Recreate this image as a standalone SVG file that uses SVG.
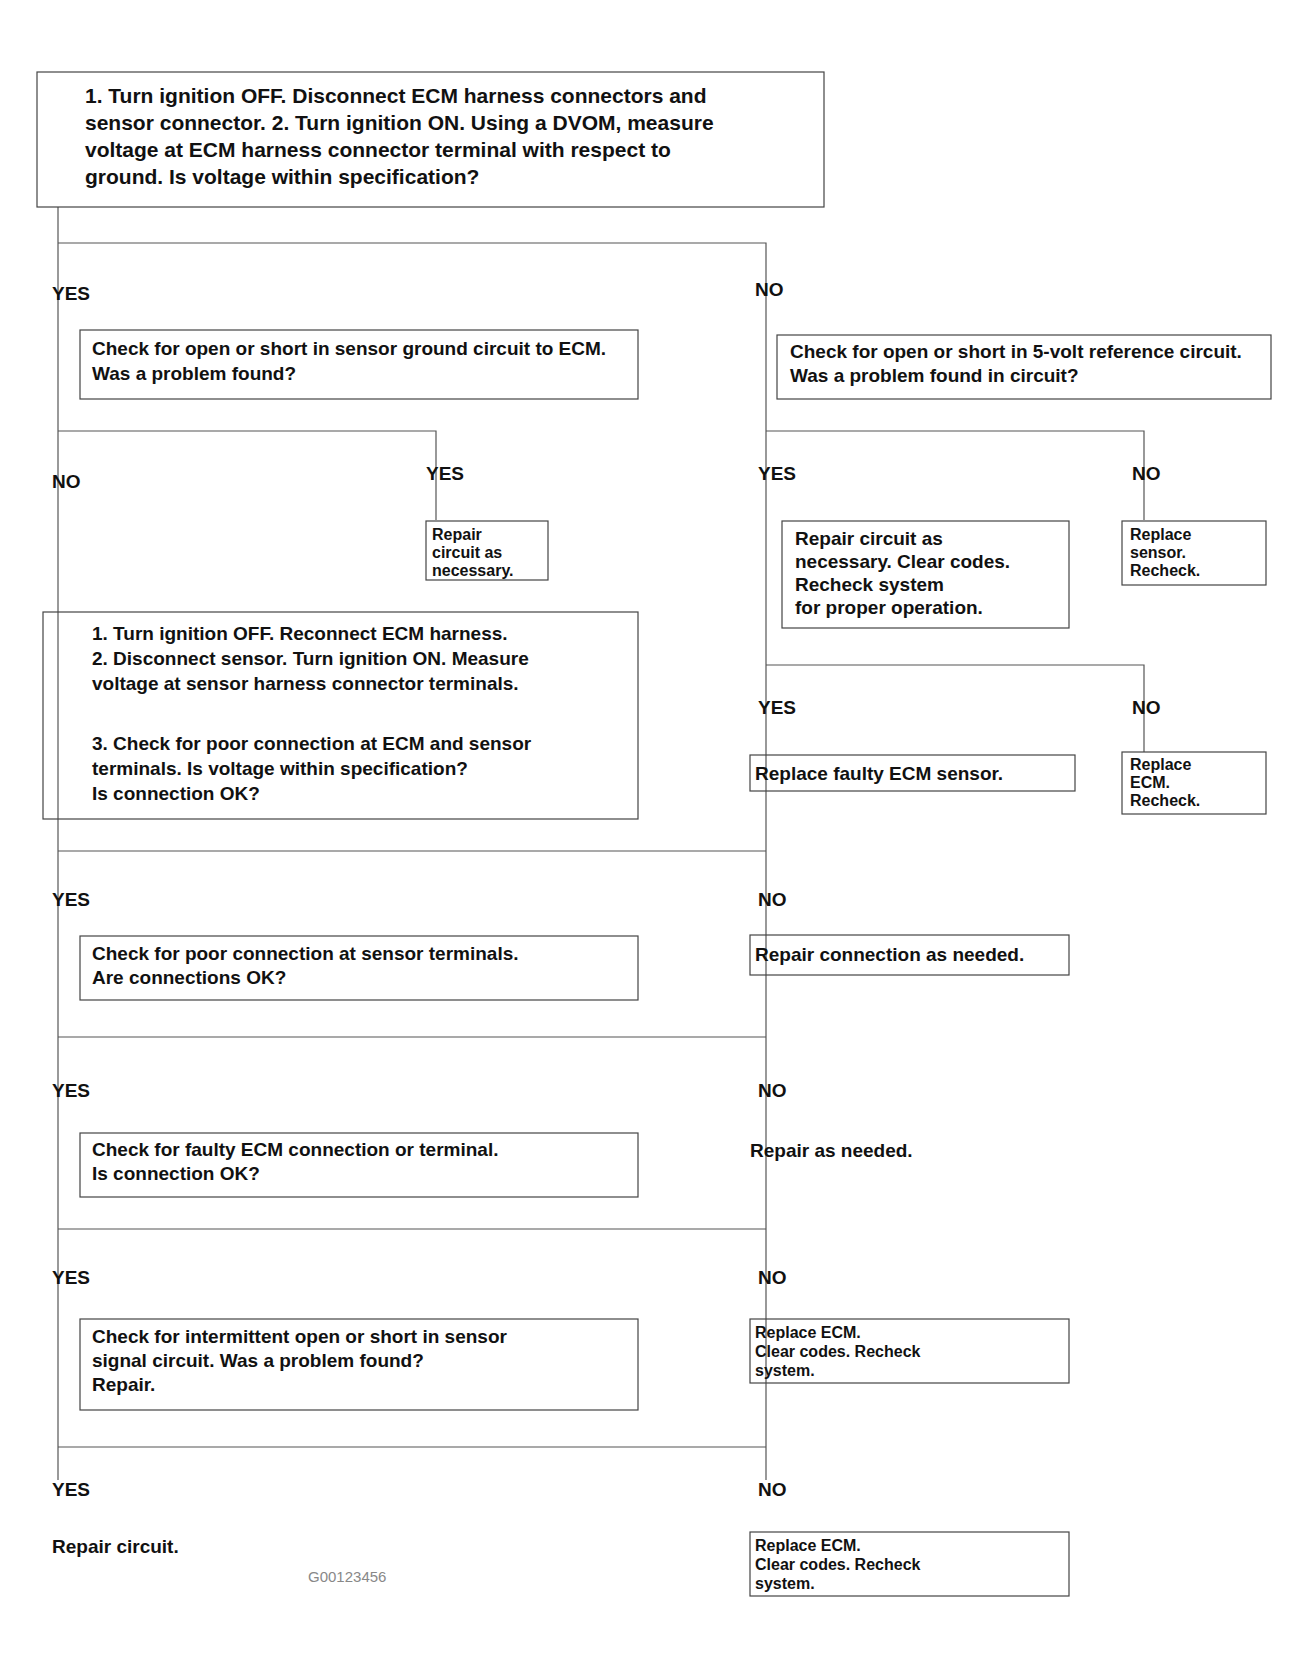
<svg xmlns="http://www.w3.org/2000/svg" width="1310" height="1668" viewBox="0 0 1310 1668">
<style>
.bg{fill:#ffffff}
.box{fill:none;stroke:#444;stroke-width:1.2}
.ln{fill:none;stroke:#555;stroke-width:1.2}
.t{font-family:"Liberation Sans",Arial,sans-serif;font-weight:bold;font-size:19px;fill:#111}
.tt{font-family:"Liberation Sans",Arial,sans-serif;font-weight:bold;font-size:21px;fill:#111}
.s{font-family:"Liberation Sans",Arial,sans-serif;font-weight:bold;font-size:16px;fill:#111}
.lb{font-family:"Liberation Sans",Arial,sans-serif;font-weight:bold;font-size:19px;fill:#111}
.f{font-family:"Liberation Sans",Arial,sans-serif;font-size:15px;fill:#888}
</style>
<rect class="bg" x="0" y="0" width="1310" height="1668"/>
<g id="connectors">
<path class="ln" d="M58 207 V1480"/>
<path class="ln" d="M58 243 H766 V1480"/>
<path class="ln" d="M58 431 H436 V520"/>
<path class="ln" d="M766 431 H1144 V520"/>
<path class="ln" d="M766 665 H1144 V752"/>
<path class="ln" d="M58 851 H766"/>
<path class="ln" d="M58 1037 H766"/>
<path class="ln" d="M58 1229 H766"/>
<path class="ln" d="M58 1447 H766"/>
</g>
<g id="n-start">
<rect class="box" x="37" y="72" width="787" height="135" fill="#fff"/>
<text class="tt" x="85" y="103">1. Turn ignition OFF. Disconnect ECM harness connectors and</text>
<text class="tt" x="85" y="130">sensor connector. 2. Turn ignition ON. Using a DVOM, measure</text>
<text class="tt" x="85" y="157">voltage at ECM harness connector terminal with respect to</text>
<text class="tt" x="85" y="184">ground. Is voltage within specification?</text>
</g>
<g id="n-yes1">
<text class="lb" x="52" y="300">YES</text>
<rect class="box" x="80" y="330" width="558" height="69"/>
<text class="t" x="92" y="355">Check for open or short in sensor ground circuit to ECM.</text>
<text class="t" x="92" y="380">Was a problem found?</text>
</g>
<g id="n-no1">
<text class="lb" x="755" y="296">NO</text>
<rect class="box" x="777" y="335" width="494" height="64"/>
<text class="t" x="790" y="358">Check for open or short in 5-volt reference circuit.</text>
<text class="t" x="790" y="382">Was a problem found in circuit?</text>
</g>
<g id="n-no2">
<text class="lb" x="52" y="488">NO</text>
</g>
<g id="n-yes2">
<text class="lb" x="426" y="480">YES</text>
<rect class="box" x="426" y="521" width="122" height="59"/>
<text class="s" x="432" y="540">Repair</text>
<text class="s" x="432" y="558">circuit as</text>
<text class="s" x="432" y="576">necessary.</text>
</g>
<g id="n-check">
<rect class="box" x="43" y="612" width="595" height="207"/>
<text class="t" x="92" y="640">1. Turn ignition OFF. Reconnect ECM harness.</text>
<text class="t" x="92" y="665">2. Disconnect sensor. Turn ignition ON. Measure</text>
<text class="t" x="92" y="690">voltage at sensor harness connector terminals.</text>
<text class="t" x="92" y="750">3. Check for poor connection at ECM and sensor</text>
<text class="t" x="92" y="775">terminals. Is voltage within specification?</text>
<text class="t" x="92" y="800">Is connection OK?</text>
</g>
<g id="n-yes3">
<text class="lb" x="758" y="480">YES</text>
<rect class="box" x="782" y="521" width="287" height="107"/>
<text class="t" x="795" y="545">Repair circuit as</text>
<text class="t" x="795" y="568">necessary. Clear codes.</text>
<text class="t" x="795" y="591">Recheck system</text>
<text class="t" x="795" y="614">for proper operation.</text>
</g>
<g id="n-no3">
<text class="lb" x="1132" y="480">NO</text>
<rect class="box" x="1122" y="521" width="144" height="64"/>
<text class="s" x="1130" y="540">Replace</text>
<text class="s" x="1130" y="558">sensor.</text>
<text class="s" x="1130" y="576">Recheck.</text>
</g>
<g id="n-yes4">
<text class="lb" x="758" y="714">YES</text>
<rect class="box" x="750" y="755" width="325" height="36"/>
<text class="t" x="755" y="780">Replace faulty ECM sensor.</text>
</g>
<g id="n-no4">
<text class="lb" x="1132" y="714">NO</text>
<rect class="box" x="1122" y="752" width="144" height="62"/>
<text class="s" x="1130" y="770">Replace</text>
<text class="s" x="1130" y="788">ECM.</text>
<text class="s" x="1130" y="806">Recheck.</text>
</g>
<g id="n-row4">
<text class="lb" x="52" y="906">YES</text>
<rect class="box" x="80" y="936" width="558" height="64"/>
<text class="t" x="92" y="960">Check for poor connection at sensor terminals.</text>
<text class="t" x="92" y="984">Are connections OK?</text>
<text class="lb" x="758" y="906">NO</text>
<rect class="box" x="750" y="935" width="319" height="40"/>
<text class="t" x="755" y="961">Repair connection as needed.</text>
</g>
<g id="n-row5">
<text class="lb" x="52" y="1097">YES</text>
<rect class="box" x="80" y="1133" width="558" height="64"/>
<text class="t" x="92" y="1156">Check for faulty ECM connection or terminal.</text>
<text class="t" x="92" y="1180">Is connection OK?</text>
<text class="lb" x="758" y="1097">NO</text>
<text class="t" x="750" y="1157">Repair as needed.</text>
</g>
<g id="n-row6">
<text class="lb" x="52" y="1284">YES</text>
<rect class="box" x="80" y="1319" width="558" height="91"/>
<text class="t" x="92" y="1343">Check for intermittent open or short in sensor</text>
<text class="t" x="92" y="1367">signal circuit. Was a problem found?</text>
<text class="t" x="92" y="1391">Repair.</text>
<text class="lb" x="758" y="1284">NO</text>
<rect class="box" x="750" y="1319" width="319" height="64"/>
<text class="s" x="755" y="1338">Replace ECM.</text>
<text class="s" x="755" y="1357">Clear codes. Recheck</text>
<text class="s" x="755" y="1376">system.</text>
</g>
<g id="n-row7">
<text class="lb" x="52" y="1496">YES</text>
<text class="t" x="52" y="1553">Repair circuit.</text>
<text class="f" x="308" y="1582">G00123456</text>
<text class="lb" x="758" y="1496">NO</text>
<rect class="box" x="750" y="1532" width="319" height="64"/>
<text class="s" x="755" y="1551">Replace ECM.</text>
<text class="s" x="755" y="1570">Clear codes. Recheck</text>
<text class="s" x="755" y="1589">system.</text>
</g>
</svg>
